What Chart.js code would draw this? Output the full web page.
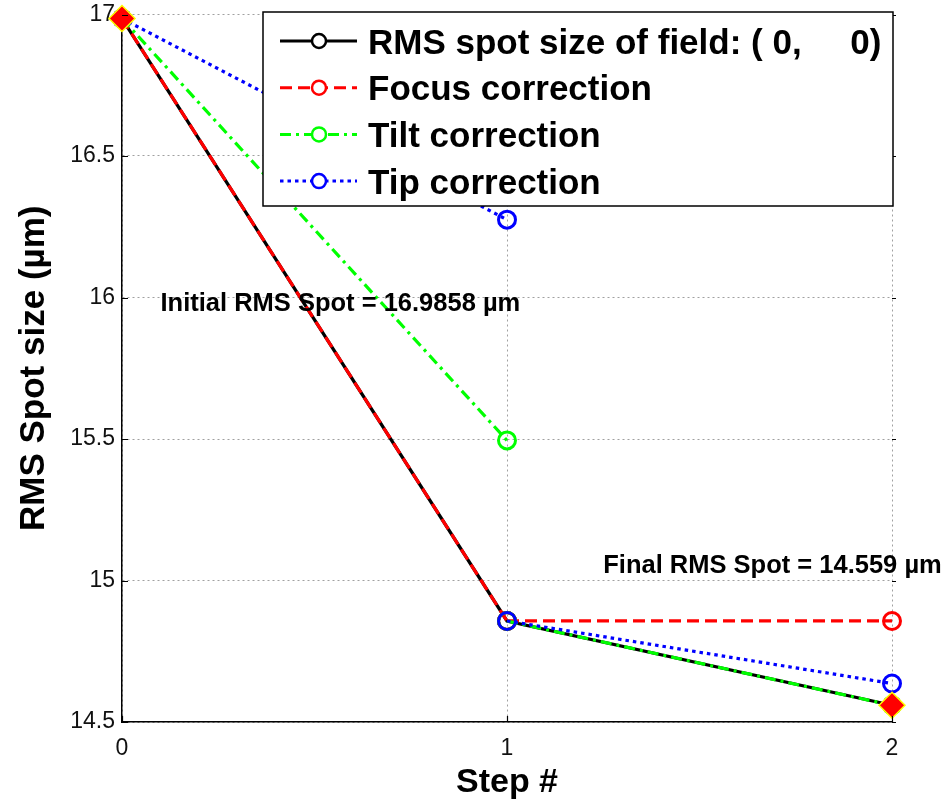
<!DOCTYPE html>
<html><head><meta charset="utf-8">
<script src="https://cdn.jsdelivr.net/npm/chart.js@4"></script>
<style>html,body{margin:0;padding:0;background:#fff}#wrap{width:949px;height:803px}</style>
</head><body><div id="wrap"><canvas id="c" width="949" height="803"></canvas></div>
<script>
// ---- data ----
const steps = [0, 1, 2];
const yTicks = [14.5, 15, 15.5, 16, 16.5, 17];
const rmsSpot = [16.9858, 14.857, 14.559];      // best spot size after each step
const focusEnd = [14.857, 14.857];              // result of focus correction in step 1, 2
const tiltEnd = [15.495, 14.559];               // result of tilt correction
const tipEnd = [16.275, 14.636];                // result of tip correction
const seriesNames = ['RMS spot size of field: ( 0,     0)', 'Focus correction', 'Tilt correction', 'Tip correction'];
const annTexts = ['Initial RMS Spot = 16.9858 \u00b5m', 'Final RMS Spot = 14.559 \u00b5m'];
const annX = [0.1, 1.25];
const annY = [15.985, 15.06];
const markerSteps = [0, 2];

const FONT = '"Liberation Sans", Arial, Helvetica, sans-serif';

function segData(ends) {
  const d = [];
  for (let i = 0; i < ends.length; i++) {
    d.push({x: steps[i], y: rmsSpot[i]});
    d.push({x: steps[i + 1], y: ends[i]});
    if (i < ends.length - 1) d.push({x: steps[i + 1], y: null});
  }
  return d;
}

const styles = [
  {color: '#000000', dash: []},
  {color: '#ff0000', dash: [12, 6]},
  {color: '#00ff00', dash: [11, 5, 3, 5]},
  {color: '#0000ff', dash: [3.5, 4]}
];

function lineDs(label, data, st, order) {
  return {
    label, data, order,
    borderColor: st.color, borderWidth: 3.2, borderDash: st.dash, borderCapStyle: 'butt',
    pointStyle: 'circle', pointRadius: 8.5, pointBorderWidth: 3,
    pointBorderColor: st.color, pointBackgroundColor: 'rgba(0,0,0,0)',
    pointHoverRadius: 8.5, tension: 0, spanGaps: false, clip: false, fill: false
  };
}

const datasets = [
  {
    label: 'markers',
    data: markerSteps.map(s => ({x: s, y: rmsSpot[steps.indexOf(s)]})),
    showLine: false, order: 0, clip: false,
    pointStyle: 'rectRot', pointRadius: 13, pointHoverRadius: 13,
    pointBackgroundColor: '#ff0000', pointBorderColor: '#ffff00', pointBorderWidth: 1.5
  },
  lineDs(seriesNames[3], segData(tipEnd), styles[3], 1),
  lineDs(seriesNames[2], segData(tiltEnd), styles[2], 2),
  lineDs(seriesNames[1], segData(focusEnd), styles[1], 3),
  lineDs(seriesNames[0], steps.map((s, i) => ({x: s, y: rmsSpot[i]})), styles[0], 4)
];

const overlay = {
  id: 'overlay',
  afterDraw(chart) {
    const ctx = chart.ctx, xs = chart.scales.x, ys = chart.scales.y, ca = chart.chartArea;
    ctx.save();
    // inner tick marks
    ctx.strokeStyle = '#000'; ctx.lineWidth = 1.2; ctx.setLineDash([]);
    ys.ticks.forEach(t => {
      const y = Math.round(ys.getPixelForValue(t.value)) + 0.5;
      ctx.beginPath(); ctx.moveTo(ca.left, y); ctx.lineTo(ca.left + 6, y);
      ctx.moveTo(ca.right, y); ctx.lineTo(ca.right + 4, y); ctx.stroke();
    });
    xs.ticks.forEach(t => {
      const x = Math.round(xs.getPixelForValue(t.value)) + 0.5;
      ctx.beginPath(); ctx.moveTo(x, ca.bottom); ctx.lineTo(x, ca.bottom - 6); ctx.stroke();
    });
    // annotations
    ctx.fillStyle = '#000'; ctx.textAlign = 'left'; ctx.textBaseline = 'alphabetic';
    const af = 25.5;
    ctx.font = 'bold ' + af + 'px ' + FONT;
    annTexts.forEach((t, i) => {
      ctx.fillText(t, xs.getPixelForValue(annX[i]), ys.getPixelForValue(annY[i]) + 0.358 * af);
    });
    // legend box
    const bx = 263, by = 12, bw = 630, bh = 194;
    ctx.fillStyle = '#fff'; ctx.fillRect(bx, by, bw, bh);
    ctx.strokeStyle = '#000'; ctx.lineWidth = 1.5;
    ctx.strokeRect(bx, by, bw, bh);
    const lf = 35;
    ctx.font = 'bold ' + lf + 'px ' + FONT;
    for (let i = 0; i < 4; i++) {
      const cy = 41 + i * 46.7;
      const st = styles[i];
      ctx.strokeStyle = st.color; ctx.lineWidth = 3; ctx.setLineDash(st.dash); ctx.lineCap = 'butt';
      ctx.beginPath(); ctx.moveTo(280, cy); ctx.lineTo(357, cy); ctx.stroke();
      ctx.setLineDash([]); ctx.lineWidth = 2.5;
      ctx.beginPath(); ctx.arc(319, cy, 7, 0, Math.PI * 2);
      ctx.fillStyle = '#fff'; ctx.fill(); ctx.stroke();
      ctx.fillStyle = '#000';
      ctx.fillText(seriesNames[i], 368, cy + 0.358 * lf);
    }
    ctx.restore();
  }
};

new Chart(document.getElementById('c'), {
  type: 'line',
  data: {datasets},
  options: {
    responsive: false, animation: false, devicePixelRatio: 1,
    events: [],
    layout: {padding: {top: 12, right: 57, left: 0, bottom: 0}},
    plugins: {legend: {display: false}, tooltip: {enabled: false}},
    scales: {
      x: {
        type: 'linear', min: 0, max: 2,
        afterBuildTicks: s => { s.ticks = steps.map(v => ({value: v})); },
        afterFit: s => { s.height = 81; s.paddingLeft = 0; s.paddingRight = 0; },
        ticks: {color: '#111', padding: 13, font: {family: FONT, size: 23}, callback: v => String(v), maxRotation: 0},
        grid: {color: '#a0a0a0', lineWidth: 1, drawTicks: false},
        border: {display: true, color: '#000', width: 1.5, dash: [2, 3]},
        title: {display: true, text: 'Step #', color: '#000', font: {family: FONT, size: 34, weight: 'bold', lineHeight: 1}, padding: {top: 0, bottom: 3}}
      },
      y: {
        type: 'linear', min: 14.5, max: 17,
        afterBuildTicks: s => { s.ticks = yTicks.map(v => ({value: v})); },
        afterFit: s => { s.width = 122; s.paddingTop = 0; s.paddingBottom = 0; },
        ticks: {color: '#111', padding: 7, font: {family: FONT, size: 23}, callback: v => String(v)},
        grid: {color: '#a0a0a0', lineWidth: 1, drawTicks: false},
        border: {display: true, color: '#000', width: 1.5, dash: [2, 3]},
        title: {display: true, text: 'RMS Spot size (\u00b5m)', color: '#000', font: {family: FONT, size: 35, weight: 'bold', lineHeight: 1}, padding: {top: 17, bottom: 0}}
      }
    }
  },
  plugins: [overlay]
});
</script>
</body></html>
